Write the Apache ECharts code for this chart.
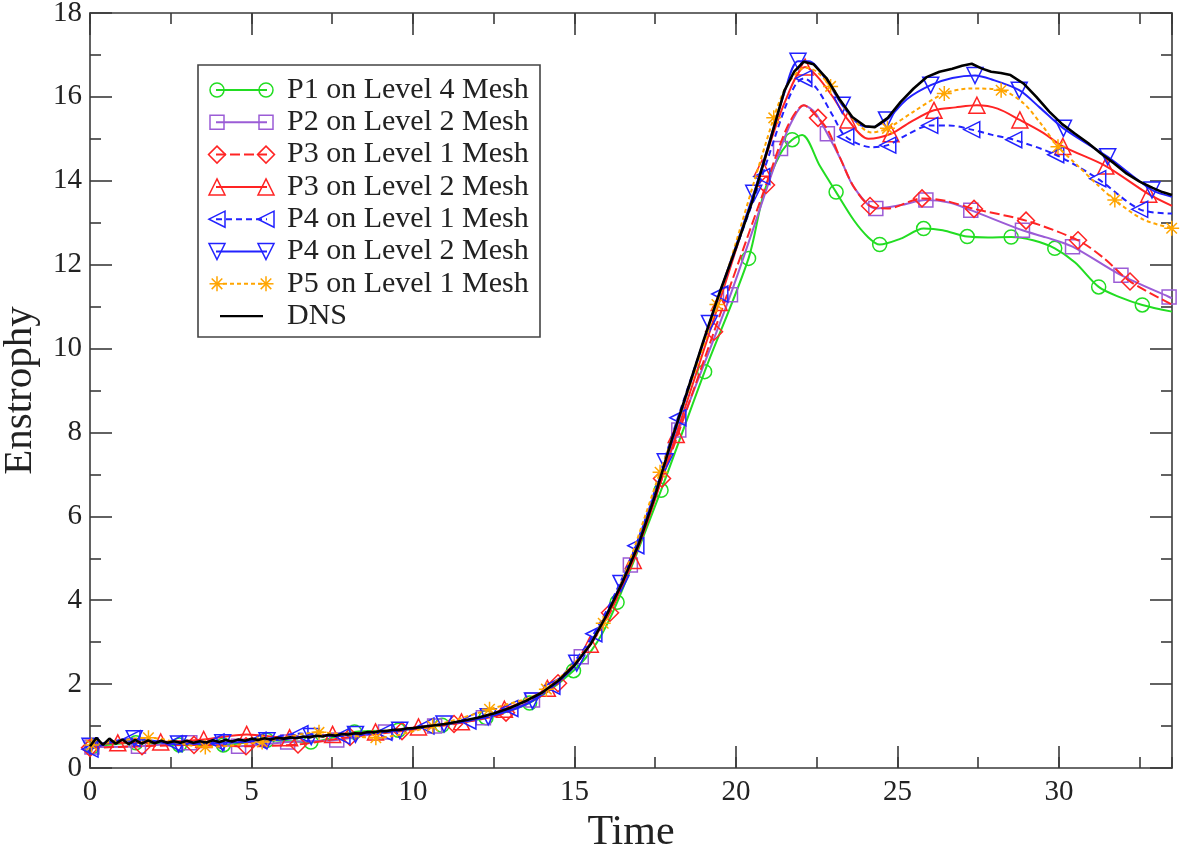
<!DOCTYPE html>
<html><head><meta charset="utf-8">
<script src="https://cdn.jsdelivr.net/npm/echarts@6/dist/echarts.min.js"></script>
<style>html,body{margin:0;padding:0;background:#fff}#c{width:1181px;height:845px}</style>
</head><body><div id="c"></div>
<script>
// ---- tick labels / axes ----
const xMajorTicks = [0, 5, 10, 15, 20, 25, 30];
const yMajorTicks = [0, 2, 4, 6, 8, 10, 12, 14, 16, 18];
const xTitle = 'Time';
const yTitle = 'Enstrophy';

// ---- series names ----
const names = ['P1 on Level 4 Mesh','P2 on Level 2 Mesh','P3 on Level 1 Mesh','P3 on Level 2 Mesh',
  'P4 on Level 1 Mesh','P4 on Level 2 Mesh','P5 on Level 1 Mesh','DNS'];

// ---- data: [time, enstrophy]; "Marks" carry a symbol, "Extra" are line-only points ----
const p1Marks = [[0.06,0.5],[1.42,0.6],[2.77,0.55],[4.13,0.55],[5.48,0.66],[6.84,0.62],[8.19,0.86],[9.55,0.9],[10.9,1.02],[12.26,1.2],[13.61,1.55],[14.97,2.32],[16.32,3.95],[17.68,6.62],[19.03,9.45],[20.39,12.15],[21.74,14.98],[23.1,13.73],[24.45,12.48],[25.81,12.86],[27.16,12.67],[28.52,12.66],[29.87,12.39],[31.23,11.47],[32.58,11.04]];
const p1Extra = [[15.7,3.0],[20.86,13.7],[21.38,14.65],[22.05,15.09],[22.6,14.35],[23.65,13.06],[24.1,12.65],[25.1,12.62],[26.4,12.82],[27.8,12.65],[29.2,12.58],[30.5,12.05],[31.9,11.22],[33.5,10.88]];

const p2Marks = [[0.06,0.5],[1.5,0.52],[3.09,0.6],[4.6,0.52],[6.12,0.62],[7.64,0.67],[9.15,0.86],[10.67,1.0],[12.18,1.2],[13.7,1.62],[15.21,2.65],[16.73,4.84],[18.23,8.06],[19.83,11.28],[21.38,14.77],[22.83,15.12],[24.33,13.34],[25.88,13.54],[27.27,13.3],[28.87,12.82],[30.42,12.43],[31.92,11.75],[33.41,11.23]];
const p2Extra = [[21.75,15.45],[22.1,15.8],[22.45,15.62],[23.25,14.5],[23.65,13.85],[25.1,13.42],[26.6,13.48],[29.6,12.65],[33.5,11.2]];

const p3aMarks = [[0,0.48],[1.61,0.52],[3.22,0.55],[4.83,0.52],[6.44,0.56],[8.05,0.74],[9.66,0.88],[11.27,1.05],[12.88,1.32],[14.49,2.02],[16.1,3.7],[17.71,6.9],[19.32,10.4],[20.93,13.9],[22.54,15.5],[24.15,13.4],[25.76,13.58],[27.37,13.33],[28.98,13.05],[30.59,12.58],[32.2,11.6]];
const p3aExtra = [[21.6,15.3],[22.1,15.8],[22.85,15.2],[23.25,14.5],[23.65,13.85],[24.7,13.34],[26.5,13.52],[31.4,12.15],[33.5,11.05]];

const p3bMarks = [[0.86,0.6],[2.19,0.62],[3.52,0.68],[4.85,0.8],[6.18,0.72],[7.51,0.8],[8.84,0.86],[10.17,0.98],[11.5,1.1],[12.83,1.4],[14.16,1.9],[15.49,2.95],[16.82,4.95],[18.15,7.95],[19.48,11.1],[20.81,14.3],[22.14,16.71],[23.47,15.45],[24.8,15.12],[26.13,15.68],[27.46,15.8],[28.79,15.45],[30.12,14.82],[31.45,14.35],[32.78,13.68]];
const p3bExtra = [[0,0.55],[21.5,15.85],[22.5,16.5],[23.0,16.0],[24.1,15.0],[25.4,15.4],[26.8,15.75],[28.1,15.72],[29.5,15.15],[33.5,13.4]];

const p4aMarks = [[0,0.45],[1.3,0.7],[2.6,0.58],[3.9,0.62],[5.2,0.66],[6.5,0.82],[7.8,0.76],[9.1,0.85],[10.4,1.0],[11.7,1.12],[13.0,1.42],[14.3,1.95],[15.6,3.2],[16.9,5.3],[18.2,8.35],[19.5,11.3],[20.8,14.1],[22.1,16.44],[23.4,15.05],[24.7,14.85],[26.0,15.32],[27.3,15.22],[28.6,14.98],[29.9,14.62],[31.2,14.05],[32.5,13.32]];
const p4aExtra = [[21.5,15.7],[21.85,16.3],[22.5,16.2],[23.0,15.55],[24.2,14.8],[25.3,15.1],[26.6,15.32],[27.9,15.1],[33.5,13.22]];

const p4bMarks = [[0,0.52],[1.37,0.7],[2.74,0.57],[4.11,0.6],[5.48,0.65],[6.85,0.75],[8.22,0.8],[9.59,0.9],[10.96,1.05],[12.33,1.22],[13.7,1.6],[15.07,2.5],[16.44,4.4],[17.81,7.3],[19.18,10.6],[20.55,13.7],[21.92,16.85],[23.29,15.8],[24.66,15.45],[26.03,16.28],[27.4,16.51],[28.77,16.16],[30.14,15.25],[31.51,14.57],[32.88,13.78]];
const p4bExtra = [[21.5,16.1],[22.25,16.85],[22.8,16.4],[23.8,15.35],[24.2,15.28],[25.3,15.95],[26.7,16.45],[27.9,16.42],[29.4,15.75],[33.5,13.62]];

const p5Marks = [[0.05,0.55],[1.81,0.72],[3.57,0.5],[5.33,0.62],[7.09,0.85],[8.85,0.72],[10.61,1.0],[12.37,1.4],[14.13,1.88],[15.89,3.45],[17.65,7.05],[19.41,11.05],[21.17,15.5],[22.93,16.25],[24.69,15.25],[26.45,16.08],[28.21,16.16],[29.97,14.81],[31.73,13.54],[33.49,12.87]];
const p5Extra = [[21.6,16.3],[22.15,16.7],[22.5,16.6],[23.6,15.5],[24.2,15.15],[25.5,15.65],[27.3,16.2],[28.9,15.85],[29.5,15.3],[30.5,14.42],[31.2,13.9],[32.6,13.08]];

const dnsTime = [0,0.2,0.4,0.6,0.8,1.0,1.2,1.4,1.6,1.8,2.0,2.2,2.4,2.6,2.8,3.0,3.2,3.4,3.6,3.8,4.0,4.2,4.4,4.6,4.8,5.0,5.2,5.4,5.6,5.8,6.0,6.2,6.4,6.6,6.8,7.0,7.2,7.4,7.6,7.8,8.0,8.2,8.4,8.6,8.8,9.0,9.2,9.4,9.6,9.8,10.0,10.5,11,11.5,12,12.5,13,13.5,14,14.5,15,15.5,16,16.5,17,17.5,18,18.5,19,19.5,20,20.5,21,21.5,21.8,22.1,22.4,22.8,23.2,23.6,24.0,24.3,24.7,25.1,25.5,25.9,26.3,26.7,27.0,27.3,27.6,27.9,28.2,28.5,28.9,29.3,29.7,30.1,30.5,30.9,31.3,31.7,32.1,32.5,32.9,33.2,33.5];
const dnsValue = [0.52,0.72,0.55,0.7,0.58,0.68,0.57,0.67,0.58,0.66,0.59,0.65,0.6,0.64,0.6,0.65,0.6,0.64,0.61,0.66,0.62,0.67,0.63,0.68,0.65,0.7,0.67,0.71,0.68,0.72,0.7,0.73,0.71,0.75,0.73,0.77,0.75,0.79,0.77,0.81,0.8,0.83,0.82,0.86,0.85,0.88,0.88,0.91,0.91,0.94,0.95,1.0,1.05,1.12,1.2,1.3,1.43,1.6,1.8,2.08,2.45,2.95,3.65,4.45,5.36,6.5,7.8,9.0,10.2,11.35,12.4,13.5,14.8,16.15,16.6,16.84,16.78,16.45,15.95,15.52,15.3,15.28,15.5,15.88,16.2,16.47,16.6,16.67,16.74,16.79,16.68,16.6,16.57,16.52,16.32,16.0,15.65,15.35,15.12,14.9,14.65,14.42,14.17,13.98,13.83,13.73,13.66];

// ---- styles ----
const FONT = '"Liberation Serif", "Times New Roman", serif';
const AX = '#3a3a3a';
const GREEN = '#22dd22', PURPLE = '#9b5cd6', RED = '#ff2424', BLUE = '#2222ff', ORANGE = '#ffa500';
const ASTER = 'path://M10,0L10,20M0,10L20,10M3,3L17,17M3,17L17,3';

function build(marks, extra) {
  const pts = marks.map(p => ({t: p[0], y: p[1], m: true}))
    .concat(extra.map(p => ({t: p[0], y: p[1], m: false})));
  pts.sort((a, b) => a.t - b.t);
  return pts.map(p => p.m ? {value: [p.t, p.y]} : {value: [p.t, p.y], symbol: 'none'});
}

const defs = [
  {name: names[0], marks: p1Marks, extra: p1Extra, color: GREEN, sym: 'circle', size: 14, rot: 0, dash: 'solid', lk: 'circle'},
  {name: names[1], marks: p2Marks, extra: p2Extra, color: PURPLE, sym: 'rect', size: 14, rot: 0, dash: 'solid', lk: 'rect'},
  {name: names[2], marks: p3aMarks, extra: p3aExtra, color: RED, sym: 'diamond', size: 17, rot: 0, dash: [10, 4], lk: 'diamond'},
  {name: names[3], marks: p3bMarks, extra: p3bExtra, color: RED, sym: 'triangle', size: 16, rot: 0, dash: 'solid', lk: 'up'},
  {name: names[4], marks: p4aMarks, extra: p4aExtra, color: BLUE, sym: 'triangle', size: 16, rot: 90, dash: [6, 4], lk: 'left'},
  {name: names[5], marks: p4bMarks, extra: p4bExtra, color: BLUE, sym: 'triangle', size: 16, rot: 180, dash: 'solid', lk: 'down'},
  {name: names[6], marks: p5Marks, extra: p5Extra, color: ORANGE, sym: ASTER, size: 15, rot: 0, dash: [4, 3], lk: 'aster'}
];

const series = defs.map((d, i) => ({
  type: 'line', name: d.name, data: build(d.marks, d.extra),
  smooth: 0.3, symbol: d.sym, symbolSize: d.size, symbolRotate: d.rot, showSymbol: true, showAllSymbol: true,
  clip: true, silent: true, animation: false, z: 2 + i,
  lineStyle: {color: d.color, width: 2, type: d.dash},
  itemStyle: {color: 'rgba(0,0,0,0)', borderColor: d.color, borderWidth: 1.5},
  emphasis: {disabled: true}
}));
series.push({
  type: 'line', name: names[7], data: dnsTime.map((t, i) => [t, dnsValue[i]]),
  smooth: false, symbol: 'none', clip: true, silent: true, animation: false, z: 20,
  lineStyle: {color: '#000', width: 2.6}, emphasis: {disabled: true}
});

// ---- legend as graphics ----
function legendSym(kind, cx, cy, c) {
  const st = {fill: 'none', stroke: c, lineWidth: 1.5};
  switch (kind) {
    case 'circle': return [{type: 'circle', shape: {cx, cy, r: 7}, style: st}];
    case 'rect': return [{type: 'rect', shape: {x: cx - 7, y: cy - 7, width: 14, height: 14}, style: st}];
    case 'diamond': return [{type: 'polygon', shape: {points: [[cx, cy - 8.5], [cx + 8.5, cy], [cx, cy + 8.5], [cx - 8.5, cy]]}, style: st}];
    case 'up': return [{type: 'polygon', shape: {points: [[cx, cy - 8], [cx + 8, cy + 8], [cx - 8, cy + 8]]}, style: st}];
    case 'left': return [{type: 'polygon', shape: {points: [[cx - 8, cy], [cx + 8, cy - 8], [cx + 8, cy + 8]]}, style: st}];
    case 'down': return [{type: 'polygon', shape: {points: [[cx, cy + 8], [cx + 8, cy - 8], [cx - 8, cy - 8]]}, style: st}];
    case 'aster': {
      const r = 7.5, q = 5.3;
      return [[0, -r, 0, r], [-r, 0, r, 0], [-q, -q, q, q], [-q, q, q, -q]].map(s => ({
        type: 'line', shape: {x1: cx + s[0], y1: cy + s[1], x2: cx + s[2], y2: cy + s[3]}, style: {stroke: c, lineWidth: 1.5}
      }));
    }
  }
  return [];
}
const graphics = [{type: 'rect', shape: {x: 198, y: 65, width: 342, height: 272}, style: {fill: '#fff', stroke: '#444', lineWidth: 1.6}, z: 100}];
const rowY0 = 90, rowStep = 32.3;
defs.forEach((d, i) => {
  const cy = rowY0 + rowStep * i;
  graphics.push({type: 'line', shape: {x1: 216, y1: cy, x2: 267, y2: cy},
    style: {stroke: d.color, lineWidth: 2, lineDash: Array.isArray(d.dash) ? d.dash : null}, z: 101});
  legendSym(d.lk, 217, cy, d.color).concat(legendSym(d.lk, 266, cy, d.color)).forEach(g => { g.z = 102; graphics.push(g); });
  graphics.push({type: 'text', x: 287, y: cy, z: 102,
    style: {text: d.name, fontFamily: FONT, fontSize: 30, fill: '#222', verticalAlign: 'middle', align: 'left'}});
});
{
  const cy = rowY0 + rowStep * 7;
  graphics.push({type: 'line', shape: {x1: 220, y1: cy, x2: 263, y2: cy}, style: {stroke: '#000', lineWidth: 2.2}, z: 101});
  graphics.push({type: 'text', x: 287, y: cy, z: 102,
    style: {text: names[7], fontFamily: FONT, fontSize: 30, fill: '#222', verticalAlign: 'middle', align: 'left'}});
}

// ---- axes ----
const lineSt = {color: AX, width: 1.6};
function xAx(pos, interval, len, labels, lineShow) {
  return {
    type: 'value', position: pos, min: 0, max: 33.5, interval: interval,
    axisLine: {show: lineShow, onZero: false, lineStyle: lineSt},
    axisTick: {show: true, inside: true, length: len, lineStyle: lineSt},
    axisLabel: labels ? {show: true, fontFamily: FONT, fontSize: 29, color: '#222', margin: 10,
      showMaxLabel: false, formatter: v => (xMajorTicks.indexOf(v) >= 0 ? String(v) : '')} : {show: false},
    splitLine: {show: false},
    name: labels ? xTitle : '', nameLocation: 'middle', nameGap: 37,
    nameTextStyle: {fontFamily: FONT, fontSize: 42, color: '#222'}
  };
}
function yAx(pos, labels) {
  return {
    type: 'value', position: pos, min: 0, max: 18, interval: 2,
    axisLine: {show: true, onZero: false, lineStyle: lineSt},
    axisTick: {show: true, inside: true, length: 22, lineStyle: lineSt},
    minorTick: {show: true, splitNumber: 2, length: 11, lineStyle: lineSt},
    axisLabel: labels ? {show: true, fontFamily: FONT, fontSize: 29, color: '#222', margin: 8,
      formatter: v => (yMajorTicks.indexOf(v) >= 0 ? String(v) : '')} : {show: false},
    splitLine: {show: false}, minorSplitLine: {show: false},
    name: labels ? yTitle : '', nameLocation: 'middle', nameGap: 49, nameRotate: 90,
    nameTextStyle: {fontFamily: FONT, fontSize: 41, color: '#222'}
  };
}

const chart = echarts.init(document.getElementById('c'), null, {renderer: 'canvas'});
chart.setOption({
  backgroundColor: '#fff',
  animation: false,
  grid: {left: 90, right: 9, top: 13, bottom: 77, containLabel: false, outerBoundsMode: 'none'},
  xAxis: [xAx('bottom', 5, 22, true, true), xAx('bottom', 2.5, 11, false, false),
          xAx('top', 5, 22, false, true), xAx('top', 2.5, 11, false, false)],
  yAxis: [yAx('left', true), yAx('right', false)],
  series: series,
  graphic: graphics
});
</script>
</body></html>
